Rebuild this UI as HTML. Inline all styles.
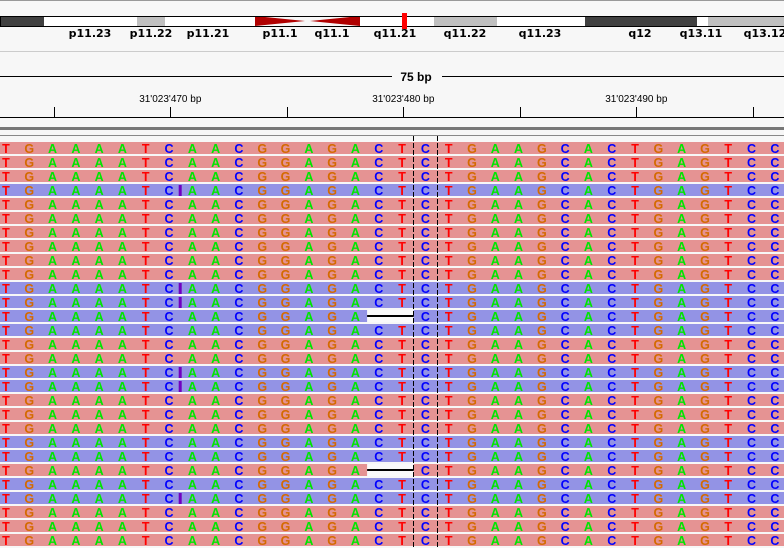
<!DOCTYPE html>
<html><head><meta charset="utf-8"><style>
html,body{margin:0;padding:0;background:#f7f7f7;}
svg{display:block;font-family:"Liberation Sans","DejaVu Sans",sans-serif;}
</style></head><body>
<svg id="v" width="784" height="548" viewBox="0 0 784 548" xmlns="http://www.w3.org/2000/svg">
<rect x="0" y="0" width="784" height="548" fill="#f7f7f7"/>
<line x1="0" y1="0.5" x2="784" y2="0.5" stroke="#999"/>
<g id="ideo"></g>
<line x1="0" y1="51.5" x2="784" y2="51.5" stroke="#ccc"/>
<line x1="0" y1="76.5" x2="392" y2="76.5" stroke="#000"/>
<line x1="442" y1="76.5" x2="784" y2="76.5" stroke="#000"/>
<text x="416" y="81" text-anchor="middle" font-size="12" font-weight="bold">75 bp</text>
<g id="ruler"></g>
<line x1="0" y1="117.5" x2="784" y2="117.5" stroke="#000"/>
<rect x="0" y="127" width="784" height="3" fill="#777"/>
<line x1="0" y1="135.5" x2="784" y2="135.5" stroke="#888"/>
<g id="reads"></g>
</svg>
<script>
const bands = [[0,44,'#404040'],[44,137,'#fff'],[137,165,'#c0c0c0'],[165,255,'#fff'],[360,434,'#fff'],[434,497,'#c0c0c0'],[497,585,'#fff'],[585,697,'#404040'],[697,708,'#fff'],[708,784,'#c0c0c0']];
const bandLabels = ['p11.23','p11.22','p11.21','p11.1','q11.1','q11.21','q11.22','q11.23','q12','q13.11','q13.12'];
const bandLabelX = [90,151,208,280,332,395,465,540,640,701,765];
const tickLabels = ["31'023'470 bp","31'023'480 bp","31'023'490 bp"];
const tickPos = [31023470,31023480,31023490];
const refSeq = ['T','G','A','A','A','A','T','C','A','A','C','G','G','A','G','A','C','T','C','T','G','A','A','G','C','A','C','T','G','A','G','T','C','C','T'];
const rowStrand = ['f','f','f','r','f','f','f','f','f','f','r','r','r','r','f','f','r','r','f','f','f','r','r','f','r','r','f','f','f'];
const insertionRows = [3,10,11,16,17,25];
const deletionRows = [12,23];
const NS='http://www.w3.org/2000/svg';
function mk(tag,attrs,parent){const e=document.createElementNS(NS,tag);for(const k in attrs)e.setAttribute(k,attrs[k]);parent.appendChild(e);return e;}
const ideo=document.getElementById('ideo');
bands.forEach(b=>{const r=mk('rect',{x:b[0],y:16,width:b[1]-b[0],height:10,fill:b[2]},ideo);

});
const cen1=mk('polygon',{points:'255,16 305,21 255,26',fill:'#b00000'},ideo);


const cen2=mk('polygon',{points:'360,16 310,21 360,26',fill:'#b00000'},ideo);


const ol=mk('rect',{x:0.5,y:16.5,width:790,height:10,fill:'none',stroke:'#000'},ideo);


const mark=mk('rect',{x:402,y:13,width:5,height:16,fill:'#ff0000'},ideo);


bandLabels.forEach((l,i)=>{const t=mk('text',{x:bandLabelX[i],y:37,'text-anchor':'middle','font-size':11,'font-weight':'bold','font-family':'"DejaVu Sans",sans-serif'},ideo);t.textContent=l;

});
const pxPerBp=23.3, refPos=31023480, refX=403.3;
const xOf=p=>refX+(p-refPos)*pxPerBp;
const ruler=document.getElementById('ruler');
for(let p=31023465;p<=31023495;p+=5){const x=Math.round(xOf(p))+0.5;const l=mk('line',{x1:x,y1:107,x2:x,y2:117,stroke:'#000'},ruler);

}
tickLabels.forEach((s,i)=>{const t=mk('text',{x:xOf(tickPos[i]),y:102,'text-anchor':'middle','font-size':10},ruler);t.textContent=s;

});
const reads=document.getElementById('reads');
const colW=pxPerBp, col0=413.7-18*colW;
const colors={A:'#00e600',C:'#0000ff',G:'#d46a00',T:'#ff0000'};
rowStrand.forEach((s,i)=>{
  const y=142+14*i;
  const g=mk('g',{},reads);
  
  
  const r=mk('rect',{x:0,y:y,width:784,height:12,fill:s==='f'?'#e59393':'#9393e5'},g);
  
  
  const del=deletionRows.includes(i);
  refSeq.forEach((b,k)=>{
    if(del&&(k===16||k===17))return;
    const t=mk('text',{x:col0+colW*(k+0.5),y:y+11,'text-anchor':'middle','font-size':12.5,'font-weight':'bold',fill:colors[b]},g);
    t.textContent=b;
    
    
  });
  if(del){
    const w=mk('rect',{x:col0+16*colW,y:y,width:2*colW,height:12,fill:'#fafafa'},g);
    
    
    const dl=mk('rect',{x:col0+16*colW,y:y+5,width:2*colW,height:2,fill:'#000'},g);
    
    
  }
  if(insertionRows.includes(i)){
    const ins=mk('rect',{x:col0+8*colW-2,y:y+1,width:3,height:11,fill:'#7000c0'},g);
    
    
  }
});
[413.5,437.5].forEach(x=>{const l=mk('line',{x1:x,y1:136,x2:x,y2:548,stroke:'#000','stroke-dasharray':'5,2'},reads);

});
</script>
</body></html>
